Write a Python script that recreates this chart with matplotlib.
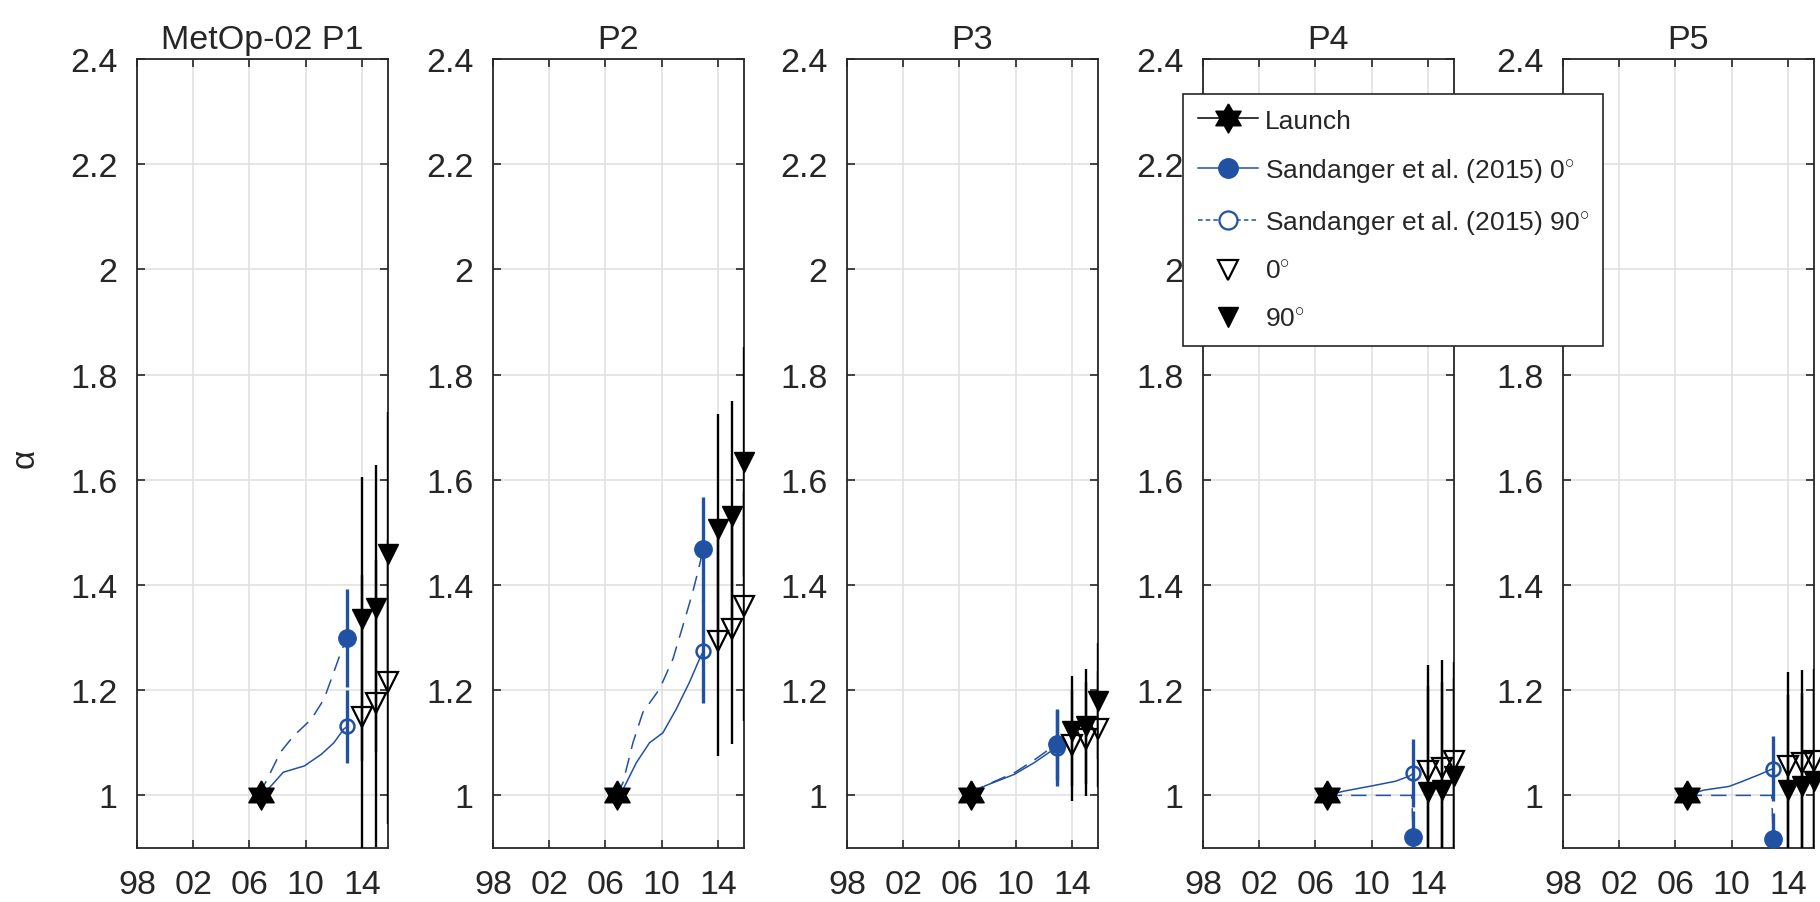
import matplotlib
matplotlib.use('Agg')
import matplotlib.pyplot as plt
from matplotlib.lines import Line2D
import numpy as np

plt.rcParams['font.family'] = ['Liberation Sans', 'DejaVu Sans']
plt.rcParams['mathtext.fontset'] = 'custom'
plt.rcParams['mathtext.rm'] = 'Liberation Sans'
plt.rcParams['mathtext.it'] = 'Liberation Sans:italic'

# ---------------- data ----------------
titles = ['MetOp-02 P1', 'P2', 'P3', 'P4', 'P5']
x_ticks = [1998, 2002, 2006, 2010, 2014]
x_ticklabels = ['98', '02', '06', '10', '14']
y_ticks = [1, 1.2, 1.4, 1.6, 1.8, 2, 2.2, 2.4]
y_ticklabels = ['1', '1.2', '1.4', '1.6', '1.8', '2', '2.2', '2.4']

launch_year = 2006.8
launch_alpha = 1.0

sand_year = 2012.95
sand_0 = [1.300, 1.469, 1.097, 0.920, 0.917]
sand_0_err = [0.093, 0.099, 0.067, 0.050, 0.050]
sand_90 = [1.131, 1.274, 1.090, 1.042, 1.051]
sand_90_err = [0.070, 0.098, 0.072, 0.065, 0.061]

tri_years = [2014.0, 2015.0, 2015.85]
alpha_0 = [[1.149, 1.175, 1.215],
           [1.293, 1.316, 1.360],
           [1.095, 1.107, 1.126],
           [1.046, 1.053, 1.065],
           [1.056, 1.062, 1.065]]
alpha_90 = [[1.335, 1.356, 1.459],
            [1.507, 1.531, 1.634],
            [1.122, 1.131, 1.180],
            [1.006, 1.011, 1.036],
            [1.011, 1.018, 1.027]]
alpha_err = [[0.270, 0.273, 0.270],
             [0.219, 0.219, 0.219],
             [0.105, 0.109, 0.110],
             [0.202, 0.204, 0.188],
             [0.179, 0.176, 0.175]]

# Sandanger et al. curves (solid ends at 90deg point, dashed at 0deg point)
solid_years = [
    [2006.8, 2007.5, 2008.4, 2009.9, 2011.1, 2012.0, 2012.7, 2012.95],
    [2006.8, 2007.24, 2008.19, 2009.13, 2010.08, 2011.03, 2011.97, 2012.68, 2012.95],
    [2006.8, 2007.8, 2009.9, 2011.3, 2012.5, 2012.95],
    [2006.8, 2008.0, 2010.0, 2011.7, 2012.7, 2012.95],
    [2006.8, 2008.0, 2009.8, 2010.6, 2012.0, 2012.95]]
solid_vals = [
    [1.0, 1.017, 1.044, 1.056, 1.078, 1.100, 1.126, 1.131],
    [1.0, 1.011, 1.062, 1.100, 1.119, 1.164, 1.215, 1.259, 1.274],
    [1.0, 1.018, 1.040, 1.062, 1.084, 1.090],
    [1.0, 1.008, 1.018, 1.027, 1.037, 1.042],
    [1.0, 1.010, 1.017, 1.025, 1.040, 1.051]]
dashed_years = [
    [2006.8, 2007.0, 2008.2, 2009.1, 2010.4, 2011.3, 2011.8, 2012.5, 2012.95],
    [2006.8, 2007.24, 2007.95, 2008.66, 2009.84, 2010.79, 2011.5, 2012.2, 2012.68, 2012.95],
    [2006.8, 2007.5, 2009.9, 2011.3, 2012.5, 2012.95],
    [2006.8, 2012.85, 2012.95],
    [2006.8, 2012.85, 2012.95]]
dashed_vals = [
    [1.0, 1.017, 1.082, 1.112, 1.145, 1.183, 1.220, 1.272, 1.300],
    [1.0, 1.024, 1.100, 1.158, 1.202, 1.259, 1.322, 1.386, 1.437, 1.469],
    [1.0, 1.015, 1.043, 1.067, 1.090, 1.097],
    [1.0, 1.0, 0.920],
    [1.0, 1.0, 0.917]]

legend_labels = ['Launch', r'Sandanger et al. (2015) 0$^{\circ}$',
                 r'Sandanger et al. (2015) 90$^{\circ}$', r'0$^{\circ}$', r'90$^{\circ}$']

# ---------------- style ----------------
BLUE = '#2151A3'
DARK = '#262626'
GRID = '#DFDFDF'
W, H = 1820, 903
panel_left_px = [137, 493, 847, 1203, 1563]
panel_w_px = 251
top_px, bottom_px = 60, 849

ang = np.deg2rad(90 + 30 * np.arange(12))
rad = np.where(np.arange(12) % 2 == 0, 1.0, 1 / np.sqrt(3))
hexagram = list(zip(rad * np.cos(ang), rad * np.sin(ang)))
hexagram.append(hexagram[0])

fig = plt.figure(figsize=(W / 100, H / 100), dpi=100)

for i in range(5):
    ax = fig.add_axes([panel_left_px[i] / W, 1 - bottom_px / H,
                       panel_w_px / W, (bottom_px - top_px) / H])
    ax.set_xlim(1998, 2015.85)
    ax.set_ylim(0.9, 2.4)
    ax.set_xticks(x_ticks)
    ax.set_xticklabels(x_ticklabels)
    ax.set_yticks(y_ticks)
    ax.set_yticklabels(y_ticklabels)
    ax.grid(True, color=GRID, lw=1.1)
    ax.set_axisbelow(True)
    for s in ax.spines.values():
        s.set_color(DARK)
        s.set_linewidth(1.3)
    ax.tick_params(direction='in', length=6, width=1.2, color=DARK,
                   labelcolor=DARK, labelsize=24.5, top=True, right=True)
    ax.tick_params(axis='x', pad=15)
    ax.tick_params(axis='y', pad=14)
    ax.set_title(titles[i], fontsize=24.5, color=DARK, pad=8)

    # Sandanger curves
    ax.plot(solid_years[i], solid_vals[i], '-', color=BLUE, lw=1.1, zorder=3)
    ax.plot(dashed_years[i], dashed_vals[i], '--', color=BLUE, lw=1.1,
            dashes=(10, 6), zorder=3)
    # Sandanger error bars
    ax.errorbar([sand_year], [sand_90[i]], yerr=[sand_90_err[i]], fmt='none',
                ecolor=BLUE, elinewidth=2.4, capsize=0, zorder=4)
    ax.errorbar([sand_year], [sand_0[i]], yerr=[sand_0_err[i]], fmt='none',
                ecolor=BLUE, elinewidth=2.4, capsize=0, zorder=4)
    ax.plot([sand_year], [sand_0[i]], 'o', color=BLUE, ms=12.5, mec=BLUE,
            zorder=5, clip_on=False)
    ax.plot([sand_year], [sand_90[i]], 'o', mfc='none', mec=BLUE, mew=1.8,
            ms=10, zorder=5, clip_on=False)
    # launch
    ax.plot([launch_year], [launch_alpha], marker=hexagram, color='k',
            ms=21, ls='none', zorder=6, clip_on=False)
    # this work
    ax.errorbar(tri_years, alpha_0[i], yerr=alpha_err[i], fmt='none',
                ecolor='k', elinewidth=1.7, capsize=0, zorder=6)
    ax.errorbar(tri_years, alpha_90[i], yerr=alpha_err[i], fmt='none',
                ecolor='k', elinewidth=1.7, capsize=0, zorder=6)
    ax.plot(tri_years, alpha_0[i], 'v', mfc='none', mec='k', mew=1.6,
            ms=14, ls='none', zorder=7, clip_on=False)
    ax.plot(tri_years, alpha_90[i], 'v', color='k', ms=14, ls='none',
            zorder=7, clip_on=False)

fig.text(25 / W, 1 - 458 / H, 'α', rotation=90, ha='center', va='center',
         fontsize=24, color=DARK)

handles = [
    Line2D([], [], color='k', lw=1.1, marker=hexagram, ms=21),
    Line2D([], [], color=BLUE, lw=1.1, marker='o', ms=14),
    Line2D([], [], color=BLUE, lw=1.1, ls=(0, (3, 2)), marker='o', mfc='white',
           mec=BLUE, mew=1.6, ms=13),
    Line2D([], [], ls='none', marker='v', mfc='none', mec='k', mew=1.6, ms=14),
    Line2D([], [], ls='none', marker='v', color='k', ms=14),
]
leg = fig.legend(handles, legend_labels, loc='upper left',
                 bbox_to_anchor=(1183 / W, 1 - 95 / H), borderaxespad=0,
                 fontsize=19, frameon=True, fancybox=False, framealpha=1,
                 edgecolor=DARK, borderpad=0.55, labelspacing=0.9,
                 handlelength=2.3, handletextpad=0.25)
leg.get_frame().set_linewidth(1.2)
for t in leg.get_texts():
    t.set_color(DARK)

fig.savefig('out.png', dpi=100)
